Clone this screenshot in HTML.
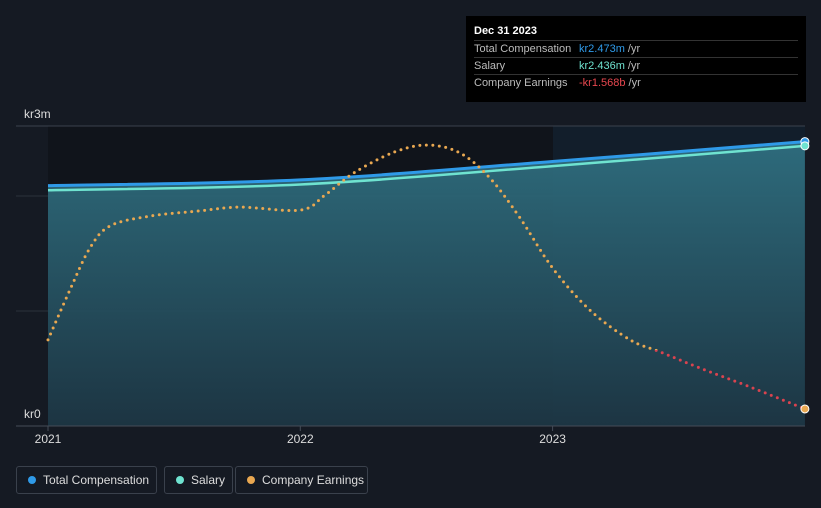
<!DOCTYPE html>
<html><head><meta charset="utf-8"><style>
body{margin:0;background:#151a23;font-family:"Liberation Sans",sans-serif;}
#wrap{position:relative;width:821px;height:508px;overflow:hidden;}
.tt{position:absolute;left:466px;top:16px;width:340px;height:86px;background:#000;color:#fff;font-size:11px;}
.tt .h{position:absolute;left:8px;top:9px;font-weight:bold;}
.row{position:absolute;left:8px;width:324px;border-top:1px solid #333;height:17px;line-height:17px;color:#bbb;}
.row span{position:absolute;left:105px;}
.leg{position:absolute;top:466px;height:26px;border:1px solid #3a414c;border-radius:3px;color:#ddd;font-size:12px;line-height:26px;}
.dot{display:inline-block;width:8px;height:8px;border-radius:50%;margin:0 7px 0 11px;}
</style></head><body><div id="wrap">
<svg id="svg" width="821" height="508" style="position:absolute;left:0;top:0">
<defs>
<linearGradient id="fill" x1="0" y1="0" x2="0" y2="1"><stop offset="0" stop-color="#2f6f80"/><stop offset="1" stop-color="#1d3644"/></linearGradient>
<clipPath id="above"><rect x="0" y="0" width="821" id="cpa" height="0"/></clipPath>
<clipPath id="below"><rect x="0" y="0" width="821" id="cpb" height="508"/></clipPath>
</defs>
<rect x="48" y="126" width="505" height="300" fill="#10141b"/>
<rect x="553" y="126" width="252" height="300" fill="#121e2b"/>
<g id="g"></g>
</svg>
<div class="tt"><div class="h">Dec 31 2023</div>
<div class="row" style="top:24px">Total Compensation<span style="color:#2f9ae8">kr2.473m <span style="position:static;color:#bbb">/yr</span></span></div>
<div class="row" style="top:41px">Salary<span style="color:#6fe3d0">kr2.436m <span style="position:static;color:#bbb">/yr</span></span></div>
<div class="row" style="top:58px">Company Earnings<span style="color:#e8474f">-kr1.568b <span style="position:static;color:#bbb">/yr</span></span></div>
</div>
<div class="leg" style="left:16px;width:139px"><span class="dot" style="background:#2f9ae8"></span>Total Compensation</div>
<div class="leg" style="left:164px;width:67px"><span class="dot" style="background:#6fe3d0"></span>Salary</div>
<div class="leg" style="left:235px;width:131px"><span class="dot" style="background:#e9a851"></span>Company Earnings</div>
</div>
<script>
const times=[2021,2021.087,2021.166,2021.246,2021.404,2021.602,2021.761,2022,2022.098,2022.217,2022.375,2022.506,2022.633,2022.752,2022.871,2023,2023.148,2023.307,2023.426,2023.584,2023.782,2024];
const earnings=[0.27,1.60,2.71,3.30,3.56,3.70,3.80,3.72,4.12,4.73,5.27,5.45,5.24,4.57,3.51,2.18,1.06,0.27,-0.05,-0.48,-0.98,-1.568];
const compTimes=[2021,2022,2023,2024];
const totalComp=[2.09,2.14,2.30,2.473];
const salary=[2.05,2.10,2.26,2.436];
const yTicks=["kr0","kr3m"];
const xTicks=[2021,2022,2023];
const X=t=>48+(t-2021)*252.3;
const Y=v=>426-v*115;
const YE=e=>350-e*37.6;
const NS="http://www.w3.org/2000/svg";
const g=document.getElementById('g');
function mk(tag,at,name,parent){const e=document.createElementNS(NS,tag);for(const k in at)e.setAttribute(k,at[k]);


(parent||g).appendChild(e);return e;}
function smooth(p){let d=`M${p[0][0]},${p[0][1]}`;for(let i=0;i<p.length-1;i++){const p0=p[i-1]||p[i],p1=p[i],p2=p[i+1],p3=p[i+2]||p2;
d+=` C${p1[0]+(p2[0]-p0[0])/6},${p1[1]+(p2[1]-p0[1])/6} ${p2[0]-(p3[0]-p1[0])/6},${p2[1]-(p3[1]-p1[1])/6} ${p2[0]},${p2[1]}`;}return d;}
[0,1,2].forEach(v=>mk('line',{x1:16,x2:805,y1:Y(v),y2:Y(v),stroke:'#2a313b'},'gridline'));
mk('line',{x1:16,x2:805,y1:126,y2:126,stroke:'#3a414c'},'gridline-top');
const cp=compTimes.map((t,i)=>[X(t),Y(totalComp[i])]);
const sp=compTimes.map((t,i)=>[X(t),Y(salary[i])]);
mk('path',{d:smooth(cp)+` L${X(2024)},426 L48,426 Z`,fill:'url(#fill)',opacity:0.95},'comp-area');
mk('path',{d:smooth(cp),fill:'none',stroke:'#2f9ae8','stroke-width':3},'total-comp-line');
mk('path',{d:smooth(sp),fill:'none',stroke:'#6fe3d0','stroke-width':2.5},'salary-line');
document.getElementById('cpa').setAttribute('height',YE(0));
document.getElementById('cpb').setAttribute('y',YE(0));
const ep=times.map((t,i)=>[X(t),YE(earnings[i])]);
mk('path',{d:smooth(ep),fill:'none',stroke:'#e9a851','stroke-width':3,'stroke-dasharray':'0 6.5','stroke-linecap':'round','clip-path':'url(#above)'},'earnings-line-positive');
mk('path',{d:smooth(ep),fill:'none',stroke:'#d9434f','stroke-width':3,'stroke-dasharray':'0 6.5','stroke-linecap':'round','clip-path':'url(#below)'},'earnings-line-negative');
mk('circle',{cx:X(2024),cy:Y(totalComp[3]),r:4,fill:'#2f9ae8',stroke:'#fff'},'total-comp-end-point');
mk('circle',{cx:X(2024),cy:Y(salary[3]),r:4,fill:'#6fe3d0',stroke:'#fff'},'salary-end-point');
mk('circle',{cx:X(2024),cy:YE(earnings[earnings.length-1]),r:4,fill:'#e9a851',stroke:'#fff'},'earnings-end-point');
mk('line',{x1:16,x2:805,y1:426,y2:426,stroke:'#454c57'},'x-axis');
xTicks.forEach(t=>{mk('line',{x1:X(t),x2:X(t),y1:426,y2:431,stroke:'#454c57'},'x-tick');
const tx=mk('text',{x:X(t),y:443,fill:'#ddd','font-size':12,'text-anchor':'middle','font-family':'Liberation Sans'},'x-tick-label');tx.textContent=t;});
[[yTicks[0],418],[yTicks[1],118]].forEach(([s,y])=>{const tx=mk('text',{x:24,y:y,fill:'#ddd','font-size':12,'font-family':'Liberation Sans'},'y-tick-label');tx.textContent=s;});
</script></body></html>
